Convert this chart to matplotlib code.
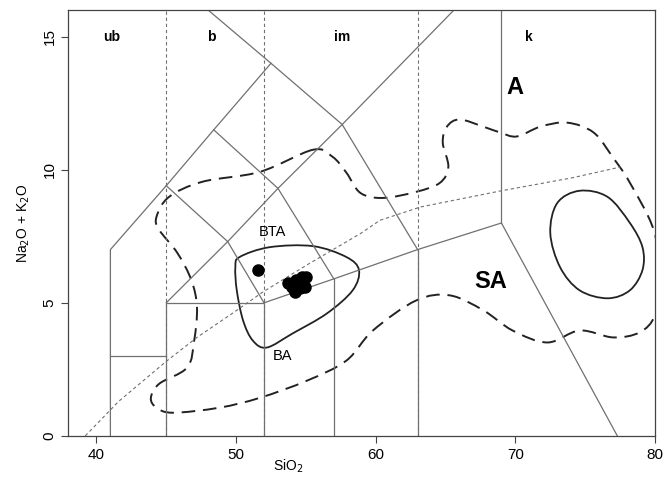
import matplotlib.pyplot as plt
from matplotlib.path import Path
from matplotlib.patches import PathPatch

plt.rcParams['font.family'] = ['Liberation Sans', 'DejaVu Sans']

# TAS field boundaries (SiO2, Na2O+K2O)
tas_lines = [
    [(41, 0), (41, 7), (45, 9.4), (48.4, 11.5), (52.5, 14), (48.0, 16)],
    [(41, 3), (45, 3)],
    [(45, 0), (45, 5), (52, 5), (52, 0)],
    [(52, 5), (57, 5.9), (63, 7), (69, 8), (77.3, 0)],
    [(57, 0), (57, 5.9)],
    [(63, 0), (63, 7)],
    [(69, 8), (69, 16)],
    [(45, 5), (49.4, 7.3), (53, 9.3), (57.6, 11.7), (65.6, 16)],
    [(52, 5), (49.4, 7.3), (45, 9.4)],
    [(57, 5.9), (53, 9.3), (48.4, 11.5)],
    [(63, 7), (57.6, 11.7), (52.5, 14)],
]
group_bounds = [45, 52, 63]

# alkaline / subalkaline divide
div_x = [39.2, 41.6, 45.0, 47.2, 50.0, 51.9, 55.0, 58.9, 60.3, 63.2, 68.9, 74.1, 77.5]
div_y = [0.0, 1.3, 2.8, 3.7, 4.7, 5.4, 6.4, 7.6, 8.1, 8.6, 9.2, 9.7, 10.1]

# outer field (dashed)
outer_x = [55.5, 51.7, 47.6, 45.2, 44.3, 44.5, 45.8, 46.8, 47.2, 47.0, 46.5, 44.5,
           43.9, 44.3, 45.5, 48.8, 51.7, 55.1, 57.9, 59.8, 62.9, 65.3, 67.7, 69.8,
           72.3, 74.6, 77.0, 78.9, 80.0, 80.4, 79.9, 78.2, 77.0, 75.6, 73.7, 71.8,
           70.1, 68.9, 67.7, 66.0, 65.1, 64.8, 65.2, 64.6, 62.9, 60.5, 58.9, 57.9,
           56.9]
outer_y = [10.75, 9.92, 9.55, 8.98, 8.23, 7.74, 6.87, 5.85, 4.83, 3.58, 2.57, 1.96,
           1.43, 1.06, 0.87, 1.06, 1.43, 2.08, 2.83, 3.96, 5.09, 5.28, 4.72, 3.96,
           3.51, 3.96, 3.70, 3.89, 4.53, 5.85, 7.74, 9.51, 10.45, 11.40, 11.77, 11.62,
           11.25, 11.40, 11.62, 11.89, 11.62, 11.02, 10.11, 9.51, 9.17, 8.94, 9.13, 9.89,
           10.49]

# field around samples
inner_x = [50.25, 52.4, 55.5, 57.9, 58.8, 58.35, 56.5, 54.05, 52.2, 51.2, 50.5, 50.05, 49.95]
inner_y = [6.72, 7.09, 7.13, 6.72, 6.23, 5.47, 4.60, 3.85, 3.32, 3.58, 4.34, 5.47, 6.34]

# rhyolite field
rhy_x = [74.6, 76.6, 78.2, 79.1, 79.1, 78.2, 76.6, 74.6, 73.2, 72.5, 73.0]
rhy_y = [9.21, 8.98, 8.0, 7.09, 6.23, 5.47, 5.17, 5.47, 6.34, 7.62, 8.75]

# samples
sio2 = [51.6, 53.7, 54.3, 54.7, 54.9, 54.2, 54.0, 54.55, 55.0]
alk = [6.25, 5.75, 5.85, 5.97, 5.60, 5.41, 5.60, 5.54, 5.96]


def closed_curve(xs, ys):
    # closed Catmull-Rom loop written as cubic Bezier segments
    pts = list(zip(xs, ys))
    n = len(pts)
    verts = [pts[0]]
    codes = [Path.MOVETO]
    for i in range(n):
        p0, p1 = pts[i - 1], pts[i]
        p2, p3 = pts[(i + 1) % n], pts[(i + 2) % n]
        c1 = (p1[0] + (p2[0] - p0[0]) / 6, p1[1] + (p2[1] - p0[1]) / 6)
        c2 = (p2[0] - (p3[0] - p1[0]) / 6, p2[1] - (p3[1] - p1[1]) / 6)
        verts += [c1, c2, p2]
        codes += [Path.CURVE4] * 3
    return Path(verts, codes)


fig = plt.figure(figsize=(6.65, 4.79), dpi=100)
ax = fig.add_axes([0.103, 0.09, 0.882, 0.889])

for seg in tas_lines:
    xs, ys = zip(*seg)
    ax.plot(xs, ys, '-', color='#707070', lw=0.9)
for x in group_bounds:
    ax.plot([x, x], [0, 16], color='#707070', lw=0.8, ls=(0, (3, 2.5)))

ax.plot(div_x, div_y, color='#707070', lw=0.8, ls=(0, (3, 2.5)))
ax.add_patch(PathPatch(closed_curve(outer_x, outer_y), fill=False,
                       ec='#222222', lw=1.4, ls=(0, (7, 4))))
ax.add_patch(PathPatch(closed_curve(inner_x, inner_y), fill=False, ec='#222222', lw=1.3))
ax.add_patch(PathPatch(closed_curve(rhy_x, rhy_y), fill=False, ec='#222222', lw=1.3))
ax.plot(sio2, alk, 'o', color='black', ms=8)

for txt, x in zip(['ub', 'b', 'im', 'k'], [41.1, 48.2, 57.6, 71.0]):
    ax.text(x, 15.0, txt, ha='center', va='center', fontsize=10, fontweight='bold')
ax.text(70.0, 13.1, 'A', ha='center', va='center', fontsize=17, fontweight='bold')
ax.text(68.2, 5.8, 'SA', ha='center', va='center', fontsize=17, fontweight='bold')
ax.text(52.6, 7.65, 'BTA', ha='center', va='center', fontsize=10.5)
ax.text(53.3, 3.0, 'BA', ha='center', va='center', fontsize=10.5)

ax.set_xlim(38, 80)
ax.set_ylim(0, 16)
ax.set_xticks([40, 50, 60, 70, 80])
ax.set_yticks([0, 5, 10, 15])
ax.tick_params(direction='out', length=5, labelsize=11, color='#444444')
for lab in ax.get_yticklabels():
    lab.set_rotation(90)
    lab.set_va('center')
for s in ax.spines.values():
    s.set_color('#444444')
    s.set_linewidth(0.9)
ax.set_xlabel('SiO$_2$', fontsize=10)
ax.xaxis.set_label_coords(0.375, -0.052)
ax.set_ylabel('Na$_2$O + K$_2$O', fontsize=10, labelpad=8)

fig.savefig('out.png', dpi=100)
